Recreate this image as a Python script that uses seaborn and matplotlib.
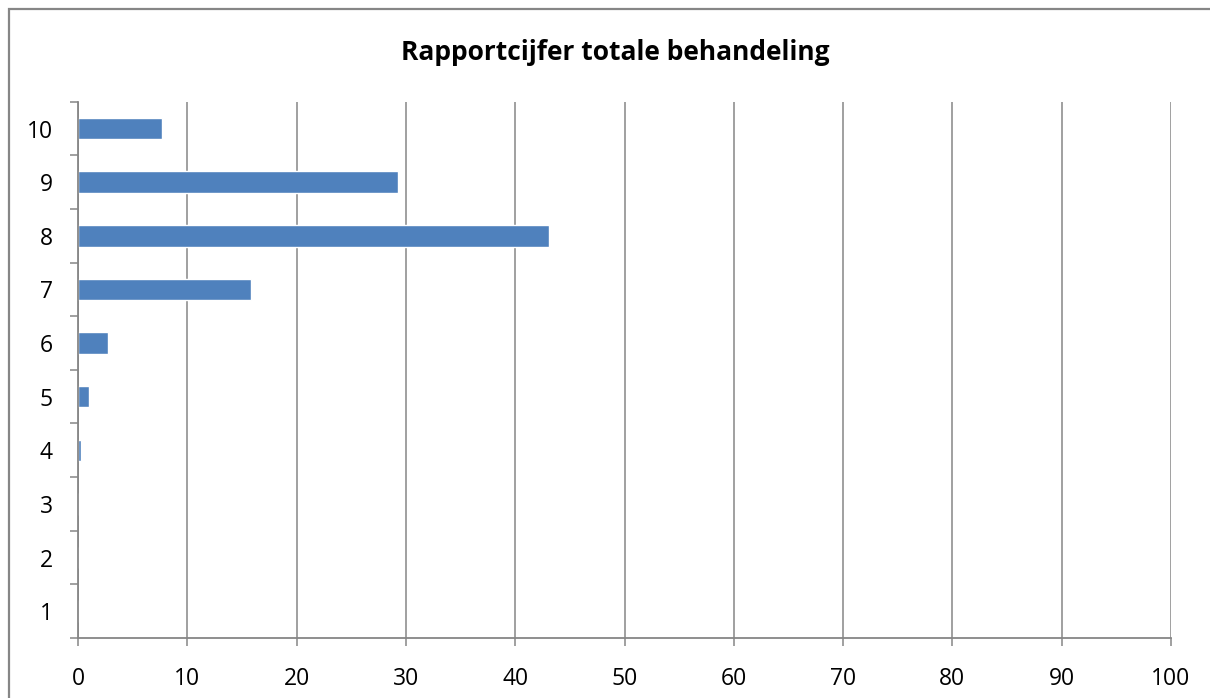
import matplotlib
matplotlib.use("Agg")
import matplotlib.pyplot as plt
import seaborn as sns
import pandas as pd
from matplotlib.patches import Rectangle

categories = ["10", "9", "8", "7", "6", "5", "4", "3", "2", "1"]
values = [7.7, 29.3, 43.1, 15.8, 2.7, 1.0, 0.3, 0.0, 0.0, 0.0]
x_ticks = [0, 10, 20, 30, 40, 50, 60, 70, 80, 90, 100]
title = "Rapportcijfer totale behandeling"

sns.set_theme(style="white")
plt.rcParams['font.family'] = ['Open Sans', 'DejaVu Sans']
plt.rcParams['text.color'] = 'black'
plt.rcParams['xtick.color'] = 'black'
plt.rcParams['ytick.color'] = 'black'

W, H = 1210, 698
fig = plt.figure(figsize=(W / 100, H / 100), dpi=100)
ax = fig.add_axes([78 / W, 1 - 638 / H, (1171 - 78) / W, (638 - 101.7) / H])

df = pd.DataFrame({"cat": categories, "val": values})
sns.barplot(data=df, x="val", y="cat", order=categories, orient="h",
            color="#4F81BD", saturation=1, width=0.4, ax=ax, zorder=3)

gray = "#868686"
ax.set_xlim(0, 100)
ax.set_ylim(len(categories) - 0.5, -0.5)
ax.set_xticks(x_ticks)
ax.set_xticklabels([str(t) for t in x_ticks])
ax.xaxis.grid(True, color=gray, linewidth=1.1, zorder=0)
ax.set_axisbelow(True)

ax.set_yticks([i - 0.5 for i in range(len(categories) + 1)])
ax.set_yticklabels([])
ax.set_yticks(list(range(len(categories))), minor=True)
ax.set_yticklabels(categories, minor=True)
ax.tick_params(axis="y", which="major", direction="out", length=6, width=1.1, color=gray, left=True)
ax.tick_params(axis="y", which="minor", length=0, pad=18, labelsize=16.5, labelcolor="black")
ax.tick_params(axis="x", direction="out", length=6, width=1.1, color=gray, bottom=True, pad=15,
               labelsize=16.5, labelcolor="black")
ax.set_xlabel("")
ax.set_ylabel("")

for s in ["top", "right"]:
    ax.spines[s].set_visible(False)
for s in ["left", "bottom"]:
    ax.spines[s].set_color(gray)
    ax.spines[s].set_linewidth(1.3)
    ax.spines[s].set_zorder(4)

fig.text(615 / W, 1 - 52 / H, title, ha="center", va="center",
         fontsize=19, fontweight="bold", color="black")

fig.patches.append(Rectangle((9 / W, -0.1), 1.2, 1 - 9 / H + 0.1, transform=fig.transFigure,
                             fill=False, edgecolor=gray, linewidth=1.6))

fig.savefig("out.png", dpi=100)
